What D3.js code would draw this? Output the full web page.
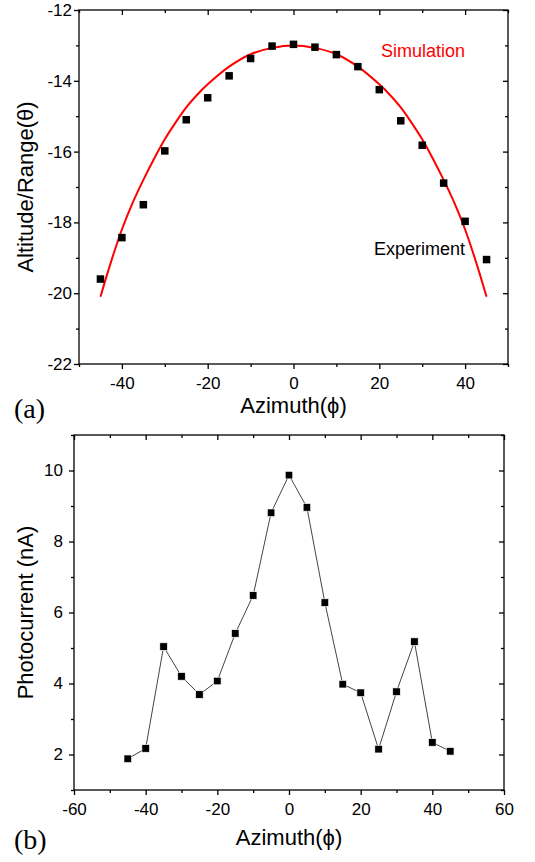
<!DOCTYPE html>
<html>
<head>
<meta charset="utf-8">
<script src="https://cdn.jsdelivr.net/npm/d3@7"></script>
<style>
  html, body { margin: 0; padding: 0; background: #fff; }
  svg { display: block; }
</style>
</head>
<body>
<svg id="chart" width="535" height="862" font-family="Liberation Sans, Arial, sans-serif"></svg>
<script>
// ---------- Data ----------
const azimuthExp = [-45, -40, -35, -30, -25, -20, -15, -10, -5, 0, 5, 10, 15, 20, 25, 30, 35, 40, 45];
const altitudeExp = [-19.6, -18.43, -17.5, -15.98, -15.1, -14.48, -13.86, -13.37, -13.02, -12.97,
                     -13.05, -13.26, -13.6, -14.25, -15.13, -15.82, -16.89, -17.97, -19.05];
const azimuthSim = [-45, -42.5, -40, -37.5, -35, -32.5, -30, -27.5, -25, -22.5, -20, -15, -10, -5, 0,
                    5, 10, 15, 20, 22.5, 25, 27.5, 30, 32.5, 35, 37.5, 40, 42.5, 45];
const altitudeSim = [-20.1, -19.1, -18.2, -17.45, -16.8, -16.2, -15.65, -15.18, -14.75, -14.4, -14.1, -13.6, -13.25, -13.07, -13.0,
                     -13.07, -13.25, -13.6, -14.1, -14.4, -14.75, -15.18, -15.65, -16.2, -16.8, -17.45, -18.2, -19.1, -20.1];
const photocurrent = [1.88, 2.17, 5.04, 4.2, 3.69, 4.07, 5.41, 6.48, 8.81, 9.87,
                      8.96, 6.28, 3.98, 3.74, 2.15, 3.77, 5.18, 2.34, 2.09];

const topXMajor = [-40, -20, 0, 20, 40];
const topXMinor = [-50, -30, -10, 10, 30, 50];
const topYMajor = [-12, -14, -16, -18, -20, -22];
const topYMinor = [-13, -15, -17, -19, -21];
const botXMajor = [-60, -40, -20, 0, 20, 40, 60];
const botXMinor = [-50, -30, -10, 10, 30, 50];
const botYMajor = [2, 4, 6, 8, 10];
const botYMinor = [1, 3, 5, 7, 9, 11];

const svg = d3.select("#chart");
const SANS = "Liberation Sans, Arial, sans-serif";
const SERIF = "Liberation Serif, Times New Roman, serif";
const fmt = d => String(d);

function frame(box, x, y, xMaj, xMin, yMaj, yMin, yPad) {
  const g = svg.append("g");
  g.append("g").attr("transform", `translate(0,${box.b})`)
    .call(d3.axisBottom(x).tickValues(xMaj).tickSizeInner(5).tickSizeOuter(0).tickPadding(8).tickFormat(fmt));
  g.append("g").attr("transform", `translate(0,${box.b})`)
    .call(d3.axisBottom(x).tickValues(xMin).tickSizeInner(3).tickSizeOuter(0).tickFormat(""));
  g.append("g").attr("transform", `translate(0,${box.t})`)
    .call(d3.axisTop(x).tickValues(xMaj).tickSizeInner(-5).tickSizeOuter(0).tickFormat(""));
  g.append("g").attr("transform", `translate(0,${box.t})`)
    .call(d3.axisTop(x).tickValues(xMin).tickSizeInner(-3).tickSizeOuter(0).tickFormat(""));
  g.append("g").attr("transform", `translate(${box.l},0)`)
    .call(d3.axisLeft(y).tickValues(yMaj).tickSizeInner(5).tickSizeOuter(0).tickPadding(yPad).tickFormat(fmt));
  g.append("g").attr("transform", `translate(${box.l},0)`)
    .call(d3.axisLeft(y).tickValues(yMin).tickSizeInner(3).tickSizeOuter(0).tickFormat(""));
  g.append("g").attr("transform", `translate(${box.r},0)`)
    .call(d3.axisRight(y).tickValues(yMaj).tickSizeInner(-5).tickSizeOuter(0).tickFormat(""));
  g.append("g").attr("transform", `translate(${box.r},0)`)
    .call(d3.axisRight(y).tickValues(yMin).tickSizeInner(-3).tickSizeOuter(0).tickFormat(""));
  g.selectAll(".domain").remove();
  g.selectAll(".tick line").attr("stroke", "#000").attr("stroke-width", 1.3);
  g.selectAll(".tick text").attr("font-size", "17px").attr("font-family", SANS).attr("fill", "#000");
  g.append("rect").attr("x", box.l).attr("y", box.t).attr("width", box.r - box.l).attr("height", box.b - box.t)
    .attr("fill", "none").attr("stroke", "#000").attr("stroke-width", 1.3);
}

// ---------- Top panel (a) ----------
const A = { l: 79, r: 508, t: 10, b: 364 };
const xA = d3.scaleLinear().domain([-50, 50]).range([A.l, A.r]);
const yA = d3.scaleLinear().domain([-22, -12]).range([A.b, A.t]);
frame(A, xA, yA, topXMajor, topXMinor, topYMajor, topYMinor, 2);

const simLine = d3.line().x((d, i) => xA(azimuthSim[i])).y(d => yA(d)).curve(d3.curveCatmullRom);
svg.append("path").datum(altitudeSim).attr("d", simLine)
  .attr("fill", "none").attr("stroke", "#ff0000").attr("stroke-width", 2);

const ms = 7.5;
svg.append("g").selectAll("rect").data(altitudeExp).join("rect")
  .attr("x", (d, i) => xA(azimuthExp[i]) - ms / 2).attr("y", d => yA(d) - ms / 2)
  .attr("width", ms).attr("height", ms).attr("fill", "#000");

svg.append("text").attr("x", 465).attr("y", 57).attr("text-anchor", "end")
  .attr("font-size", "18px").attr("fill", "#ff0000").text("Simulation");
svg.append("text").attr("x", 465).attr("y", 255).attr("text-anchor", "end")
  .attr("font-size", "18px").attr("fill", "#000").text("Experiment");

svg.append("text").attr("x", (A.l + A.r) / 2).attr("y", 413).attr("text-anchor", "middle")
  .attr("font-size", "22px").attr("fill", "#000").text("Azimuth(\u03D5)");
svg.append("text").attr("transform", `translate(33,${(A.t + A.b) / 2}) rotate(-90)`).attr("text-anchor", "middle")
  .attr("font-size", "22px").attr("fill", "#000").text("Altitude/Range(\u03B8)");
svg.append("text").attr("x", 14).attr("y", 418).attr("font-size", "28px")
  .attr("font-family", SERIF).attr("fill", "#000").text("(a)");

// ---------- Bottom panel (b) ----------
const B = { l: 74, r: 504, t: 435, b: 790 };
const xB = d3.scaleLinear().domain([-60, 60]).range([B.l, B.r]);
const yB = d3.scaleLinear().domain([1, 11]).range([B.b, B.t]);
frame(B, xB, yB, botXMajor, botXMinor, botYMajor, botYMinor, 6);

const pcLine = d3.line().x((d, i) => xB(azimuthExp[i])).y(d => yB(d));
svg.append("path").datum(photocurrent).attr("d", pcLine)
  .attr("fill", "none").attr("stroke", "#444").attr("stroke-width", 1);

svg.append("g").selectAll("rect").data(photocurrent).join("rect")
  .attr("x", (d, i) => xB(azimuthExp[i]) - ms / 2).attr("y", d => yB(d) - ms / 2)
  .attr("width", ms).attr("height", ms).attr("fill", "#000")
  .attr("stroke", "#fff").attr("stroke-width", 0.6);

svg.append("text").attr("x", (B.l + B.r) / 2).attr("y", 845).attr("text-anchor", "middle")
  .attr("font-size", "22px").attr("fill", "#000").text("Azimuth(\u03D5)");
svg.append("text").attr("transform", `translate(33,${(B.t + B.b) / 2}) rotate(-90)`).attr("text-anchor", "middle")
  .attr("font-size", "22px").attr("fill", "#000").text("Photocurrent (nA)");
svg.append("text").attr("x", 14).attr("y", 849).attr("font-size", "28px")
  .attr("font-family", SERIF).attr("fill", "#000").text("(b)");
</script>
</body>
</html>
